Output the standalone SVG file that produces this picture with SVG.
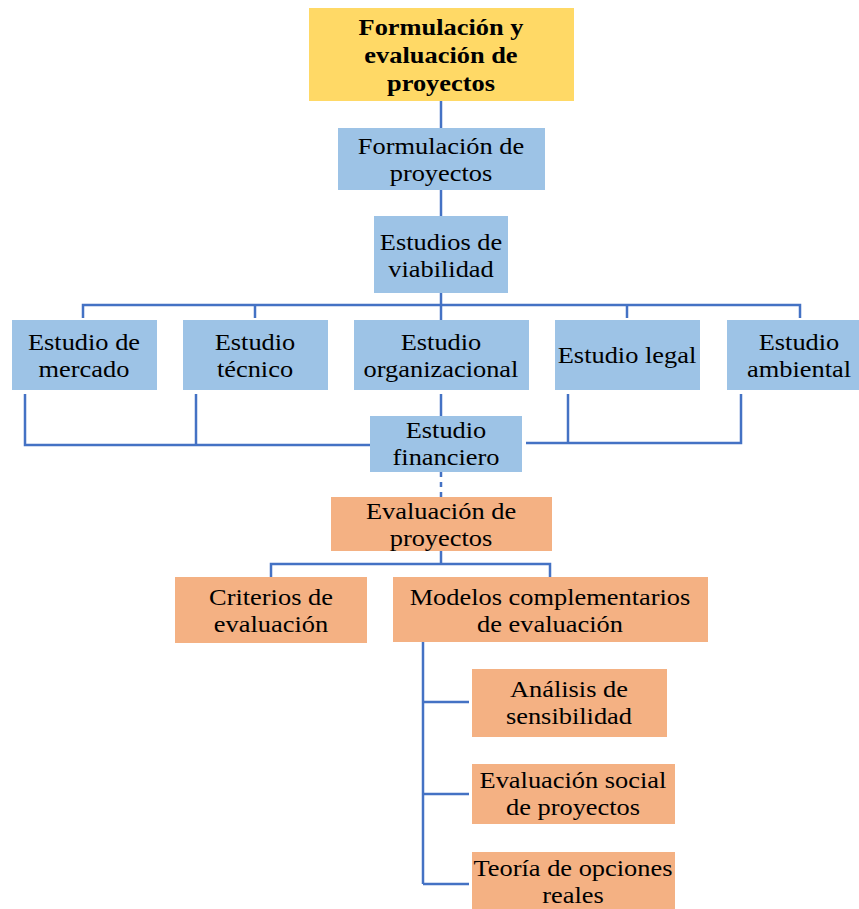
<svg xmlns="http://www.w3.org/2000/svg" width="859" height="909" viewBox="0 0 859 909">
<style>
.b{fill:#9DC3E6}
.o{fill:#F4B183}
.y{fill:#FFD966}
text{font-family:"Liberation Serif","Times New Roman",serif;font-size:24px;fill:#000;text-anchor:middle;transform-box:fill-box;transform-origin:center;transform:scaleX(1.1)}
.t{font-weight:bold}
.c line,.c polyline{stroke:#4472C4;stroke-width:2.5;fill:none}
</style>
<rect width="859" height="909" fill="#fff"/>
<g class="c" id="connectors">
<line x1="441" y1="101" x2="441" y2="128"/>
<line x1="441" y1="190" x2="441" y2="216"/>
<line x1="441" y1="293" x2="441" y2="320"/>
<polyline points="83,318 83,305 800,305 800,318"/>
<line x1="255" y1="305" x2="255" y2="318"/>
<line x1="627" y1="305" x2="627" y2="318"/>
<polyline points="25,394 25,445 370,445"/>
<line x1="196" y1="394" x2="196" y2="445"/>
<line x1="441" y1="394" x2="441" y2="416"/>
<polyline points="526,443 741,443 741,394"/>
<line x1="568" y1="394" x2="568" y2="443"/>
<line x1="441" y1="472" x2="441" y2="497" stroke-dasharray="5,5"/>
<line x1="441" y1="551" x2="441" y2="564"/>
<polyline points="271,577 271,564 550,564 550,577"/>
<line x1="423" y1="642" x2="423" y2="884"/>
<line x1="423" y1="702" x2="469" y2="702"/>
<line x1="423" y1="794" x2="469" y2="794"/>
<line x1="423" y1="884" x2="469" y2="884"/>
</g>
<g id="n-top"><rect class="y" x="309" y="8" width="265" height="93"/>
<text class="t"><tspan x="441" y="35">Formulación y</tspan><tspan x="441" y="63">evaluación de</tspan><tspan x="441" y="91">proyectos</tspan></text></g>
<g id="n-formulacion"><rect class="b" x="338" y="128" width="207" height="62"/>
<text><tspan x="441" y="154">Formulación de</tspan><tspan x="441" y="181">proyectos</tspan></text></g>
<g id="n-viabilidad"><rect class="b" x="374" y="216" width="134" height="77"/>
<text><tspan x="441" y="250">Estudios de</tspan><tspan x="441" y="277">viabilidad</tspan></text></g>
<g id="n-mercado"><rect class="b" x="12" y="320" width="145" height="70"/>
<text><tspan x="84" y="350">Estudio de</tspan><tspan x="84" y="377">mercado</tspan></text></g>
<g id="n-tecnico"><rect class="b" x="183" y="320" width="145" height="70"/>
<text><tspan x="255" y="350">Estudio</tspan><tspan x="255" y="377">técnico</tspan></text></g>
<g id="n-organizacional"><rect class="b" x="354" y="320" width="175" height="70"/>
<text><tspan x="441" y="350">Estudio</tspan><tspan x="441" y="377">organizacional</tspan></text></g>
<g id="n-legal"><rect class="b" x="555" y="320" width="145" height="70"/>
<text x="627" y="363">Estudio legal</text></g>
<g id="n-ambiental"><rect class="b" x="727" y="320" width="145" height="70"/>
<text><tspan x="799" y="350">Estudio</tspan><tspan x="799" y="377">ambiental</tspan></text></g>
<g id="n-financiero"><rect class="b" x="370" y="416" width="152" height="56"/>
<text><tspan x="446" y="438">Estudio</tspan><tspan x="446" y="465">financiero</tspan></text></g>
<g id="n-evaluacion"><rect class="o" x="331" y="497" width="221" height="54"/>
<text><tspan x="441" y="519">Evaluación de</tspan><tspan x="441" y="546">proyectos</tspan></text></g>
<g id="n-criterios"><rect class="o" x="175" y="577" width="192" height="66"/>
<text><tspan x="271" y="605">Criterios de</tspan><tspan x="271" y="632">evaluación</tspan></text></g>
<g id="n-modelos"><rect class="o" x="393" y="577" width="315" height="65"/>
<text><tspan x="550" y="605">Modelos complementarios</tspan><tspan x="550" y="632">de evaluación</tspan></text></g>
<g id="n-sensibilidad"><rect class="o" x="472" y="669" width="195" height="68"/>
<text><tspan x="569" y="697">Análisis de</tspan><tspan x="569" y="724">sensibilidad</tspan></text></g>
<g id="n-social"><rect class="o" x="472" y="764" width="203" height="60"/>
<text><tspan x="573" y="788">Evaluación social</tspan><tspan x="573" y="815">de proyectos</tspan></text></g>
<g id="n-opciones"><rect class="o" x="472" y="852" width="203" height="57"/>
<text><tspan x="573" y="876">Teoría de opciones</tspan><tspan x="573" y="903">reales</tspan></text></g>
</svg>
